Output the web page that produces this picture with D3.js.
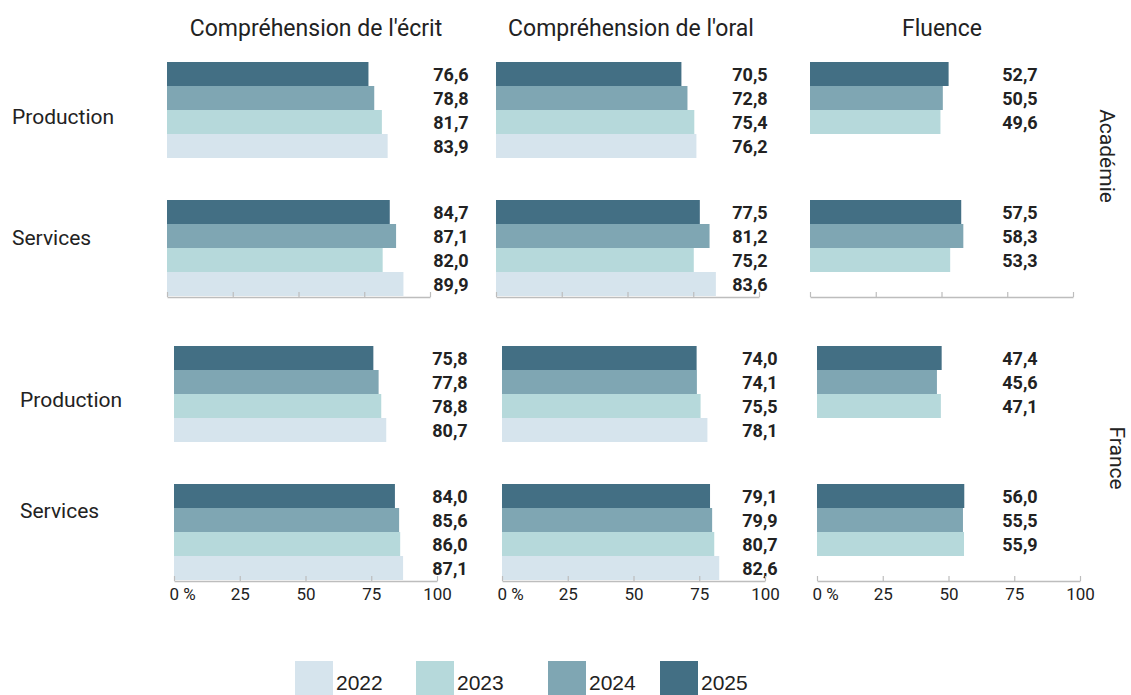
<!DOCTYPE html>
<html>
<head>
<meta charset="utf-8">
<script src="https://cdn.jsdelivr.net/npm/d3@7"></script>
<style>
  body { margin: 0; background: #fff; }
  svg text { fill: #222; }
  .cond { font-family: Roboto, "DejaVu Sans Condensed", sans-serif; }
</style>
</head>
<body>
<div id="chart"></div>
<script>
// data, values per year 2022..2025 (null = no value)
const years = ["2022", "2023", "2024", "2025"];
const skills = ["Compréhension de l'écrit", "Compréhension de l'oral", "Fluence"];
const scopes = ["Académie", "France"];
const sectors = ["Production", "Services"];

const academieEcrit   = [[83.9, 81.7, 78.8, 76.6], [89.9, 82.0, 87.1, 84.7]];
const academieOral    = [[76.2, 75.4, 72.8, 70.5], [83.6, 75.2, 81.2, 77.5]];
const academieFluence = [[null, 49.6, 50.5, 52.7], [null, 53.3, 58.3, 57.5]];
const franceEcrit     = [[80.7, 78.8, 77.8, 75.8], [87.1, 86.0, 85.6, 84.0]];
const franceOral      = [[78.1, 75.5, 74.1, 74.0], [82.6, 80.7, 79.9, 79.1]];
const franceFluence   = [[null, 47.1, 45.6, 47.4], [null, 55.9, 55.5, 56.0]];

const xTicks = [0, 25, 50, 75, 100];
const colors = ["#d6e4ed", "#b6d9db", "#7fa6b3", "#436f84"];

const panelData = [
    [academieEcrit, academieOral, academieFluence],
    [franceEcrit, franceOral, franceFluence]
];

// layout
const W = 1131, H = 695;
const panelW = 263;
const blocks = [
    {x0: [167, 496, 810], y0: 62,  labelX: [284, 254, 210], rowLabelX: 12, rowDy: [7, -10], scopeX: 1107, scopeY: 156, tickLabels: false},
    {x0: [174, 502, 817], y0: 346, labelX: [276, 258, 203], rowLabelX: 20, rowDy: [6, -21], scopeX: 1117, scopeY: 458, tickLabels: true}
];
const headerX = [316, 631, 942];
const legendX = [295, 416, 548, 660];

const svg = d3.select("#chart").append("svg")
    .attr("width", W)
    .attr("height", H);

const fmt = d3.formatLocale({decimal: ",", thousands: " ", grouping: [3], currency: ["", " €"]}).format(".1f");

const x = d3.scaleLinear().domain([0, 100]).range([0, panelW]);
const yInner = d3.scaleBand().domain(years.slice().reverse()).range([0, 96]).padding(0);

// headers
svg.selectAll(".header")
    .data(skills)
    .join("text")
    .attr("class", "header cond")
    .attr("x", (d, i) => headerX[i])
    .attr("y", 36)
    .attr("text-anchor", "middle")
    .style("font-size", "23px")
    .text(d => d);

blocks.forEach((b, bi) => {
    const y = d3.scaleBand().domain(sectors).range([b.y0, b.y0 + 234]).paddingInner(42 / 138);
    const axisY = b.y0 + 235;

    // row labels
    svg.selectAll(".rowLabel" + bi)
        .data(sectors)
        .join("text")
        .attr("class", "cond")
        .attr("x", b.rowLabelX)
        .attr("y", (d, i) => y(d) + y.bandwidth() / 2 + b.rowDy[i])
        .attr("dominant-baseline", "central")
        .style("font-size", "21px")
        .text(d => d);

    // scope label on the right
    svg.append("text")
        .attr("class", "cond")
        .attr("transform", "translate(" + b.scopeX + "," + b.scopeY + ") rotate(90)")
        .attr("text-anchor", "middle")
        .attr("dominant-baseline", "central")
        .style("font-size", "21px")
        .text(scopes[bi]);

    skills.forEach((s, si) => {
        const g = svg.append("g")
            .attr("transform", "translate(" + b.x0[si] + ",0)");
        const vals = panelData[bi][si];

        const rows = [];
        sectors.forEach((sec, ri) => {
            years.forEach((yr, yi) => {
                if (vals[ri][yi] != null) rows.push({sector: sec, year: yr, yi: yi, value: vals[ri][yi]});
            });
        });

        g.selectAll(".bar")
            .data(rows)
            .join("rect")
            .attr("class", "bar")
            .attr("x", 0)
            .attr("y", d => y(d.sector) + yInner(d.year))
            .attr("width", d => x(d.value))
            .attr("height", yInner.bandwidth())
            .attr("fill", d => colors[d.yi]);

        g.selectAll(".val")
            .data(rows)
            .join("text")
            .attr("class", "val cond")
            .attr("x", b.labelX[si])
            .attr("y", d => y(d.sector) + yInner(d.year) + yInner.bandwidth() / 2)
            .attr("text-anchor", "middle")
            .attr("dominant-baseline", "central")
            .style("font-size", "18px")
            .style("font-weight", "bold")
            .text(d => fmt(d.value));

        // axis
        const axis = d3.axisBottom(x)
            .tickValues(xTicks)
            .tickSizeInner(-5)
            .tickSizeOuter(0)
            .tickPadding(7)
            .tickFormat(d => b.tickLabels ? (d === 0 ? "0 %" : d) : "");
        const ag = g.append("g")
            .attr("transform", "translate(0," + axisY + ")")
            .call(axis);
        ag.select(".domain").attr("stroke", "#bdbdbd").attr("stroke-width", 1.6);
        ag.selectAll(".tick line").attr("stroke", "#bdbdbd").attr("stroke-width", 1.2);
        ag.selectAll(".tick text")
            .attr("class", "cond")
            .style("font-size", "17px")
            .attr("fill", "#222")
            .attr("text-anchor", d => d === 0 ? "start" : "middle")
            .attr("dx", d => d === 0 ? -5 : 0);
    });
});

// legend
const lg = svg.selectAll(".legend")
    .data(years)
    .join("g")
    .attr("class", "legend")
    .attr("transform", (d, i) => "translate(" + legendX[i] + ",0)");
lg.append("rect")
    .attr("x", 0)
    .attr("y", 661)
    .attr("width", 38)
    .attr("height", 40)
    .attr("fill", (d, i) => colors[i]);
lg.append("text")
    .attr("x", 41)
    .attr("y", 690)
    .style("font-family", "'Liberation Sans', Arial, sans-serif")
    .style("font-size", "21px")
    .text(d => d);
</script>
</body>
</html>
